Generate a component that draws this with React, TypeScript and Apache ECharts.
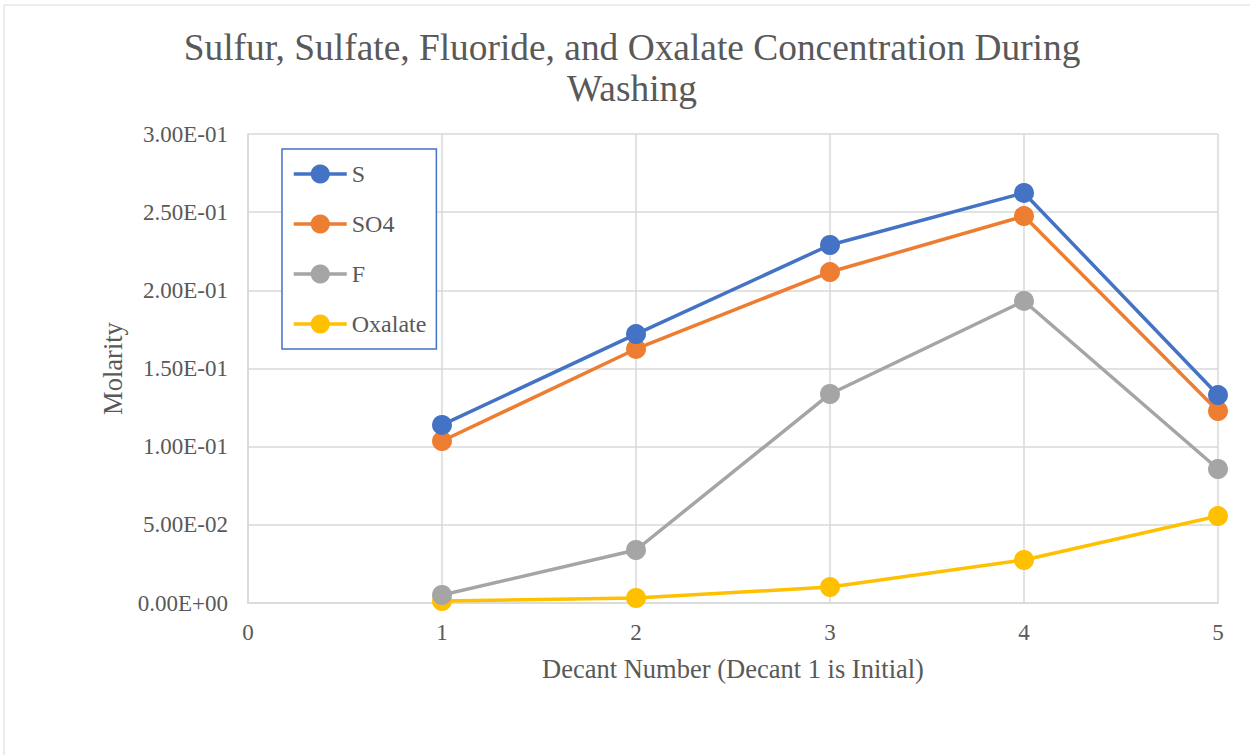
import React, { useEffect, useRef } from "react";
import * as echarts from "echarts";

const decants = [1, 2, 3, 4, 5];
const sulfur = [0.1139, 0.172, 0.229, 0.2623, 0.133];
const sulfate = [0.1036, 0.1625, 0.2117, 0.2475, 0.1228];
const fluoride = [0.0051, 0.0339, 0.1337, 0.1932, 0.0857];
const oxalate = [0.0013, 0.0032, 0.0102, 0.0275, 0.0556];

const seriesNames = ["S", "SO4", "F", "Oxalate"];
const seriesColors = ["#4472C4", "#ED7D31", "#A5A5A5", "#FFC000"];
const seriesValues = [sulfur, sulfate, fluoride, oxalate];

const FONT = "Liberation Serif";

function sci(v: number): string {
  const s = v.toExponential(2);
  const [m, e] = s.split("e");
  const sign = e[0] === "-" ? "-" : "+";
  const digits = e.replace(/[+-]/, "").padStart(2, "0");
  return `${m}E${sign}${digits}`;
}

export default function App() {
  const ref = useRef<HTMLDivElement>(null);
  useEffect(() => {
    if (!ref.current) return;
    const chart = echarts.init(ref.current, undefined, { renderer: "svg" });
    chart.setOption({
      animation: false,
      backgroundColor: "#ffffff",
      textStyle: { fontFamily: FONT },
      title: {
        text: "Sulfur, Sulfate, Fluoride, and Oxalate Concentration During\nWashing",
        left: 627,
        top: 22,
        textAlign: "center",
        textStyle: {
          fontFamily: FONT,
          fontSize: 37.4,
          fontWeight: "normal",
          color: "#595959",
          lineHeight: 41,
        },
      },
      graphic: [
        {
          type: "rect",
          shape: { x: 4, y: 5, width: 1250, height: 760 },
          style: { fill: "none", stroke: "#D9D9D9", lineWidth: 1 },
          silent: true,
        },
      ],
      legend: {
        orient: "vertical",
        left: 282,
        top: 149,
        padding: [13, 10, 13, 10],
        itemWidth: 53,
        itemHeight: 24,
        itemGap: 26,
        itemTextGap: 4,
        borderColor: "#4472C4",
        borderWidth: 1.5,
        backgroundColor: "#ffffff",
        lineStyle: { width: 3.5 },
        textStyle: { fontFamily: FONT, fontSize: 24, color: "#595959" },
        data: seriesNames,
      },
      grid: { left: 248, right: 32, top: 134, bottom: 152, containLabel: false },
      xAxis: {
        type: "value",
        min: 0,
        max: 5,
        interval: 1,
        name: "Decant Number (Decant 1 is Initial)",
        nameLocation: "middle",
        nameGap: 52,
        nameTextStyle: { fontFamily: FONT, fontSize: 26.5, color: "#595959" },
        axisLine: { show: true, lineStyle: { color: "#D9D9D9", width: 1.5 } },
        axisTick: { show: false },
        axisLabel: { fontFamily: FONT, fontSize: 23, color: "#595959", margin: 18 },
        splitLine: { show: true, lineStyle: { color: "#D9D9D9", width: 1.5 } },
      },
      yAxis: {
        type: "value",
        min: 0,
        max: 0.3,
        interval: 0.05,
        name: "Molarity",
        nameLocation: "middle",
        nameGap: 122,
        nameRotate: 90,
        nameTextStyle: { fontFamily: FONT, fontSize: 26.5, color: "#595959" },
        axisLine: { show: true, lineStyle: { color: "#D9D9D9", width: 1.5 } },
        axisTick: { show: false },
        axisLabel: {
          fontFamily: FONT,
          fontSize: 23,
          color: "#595959",
          margin: 20,
          formatter: (v: number) => sci(v),
        },
        splitLine: { show: true, lineStyle: { color: "#D9D9D9", width: 1.5 } },
      },
      series: seriesNames.map((name, i) => ({
        name,
        type: "line",
        data: decants.map((d, j) => [d, seriesValues[i][j]]),
        symbol: "circle",
        symbolSize: 20,
        color: seriesColors[i],
        lineStyle: { color: seriesColors[i], width: 3.5 },
        itemStyle: { color: seriesColors[i] },
        z: 10 - i,
      })),
    });
    return () => chart.dispose();
  }, []);
  return (
    <div
      ref={ref}
      style={{ position: "absolute", left: 0, top: 0, width: 1250, height: 755 }}
    />
  );
}
